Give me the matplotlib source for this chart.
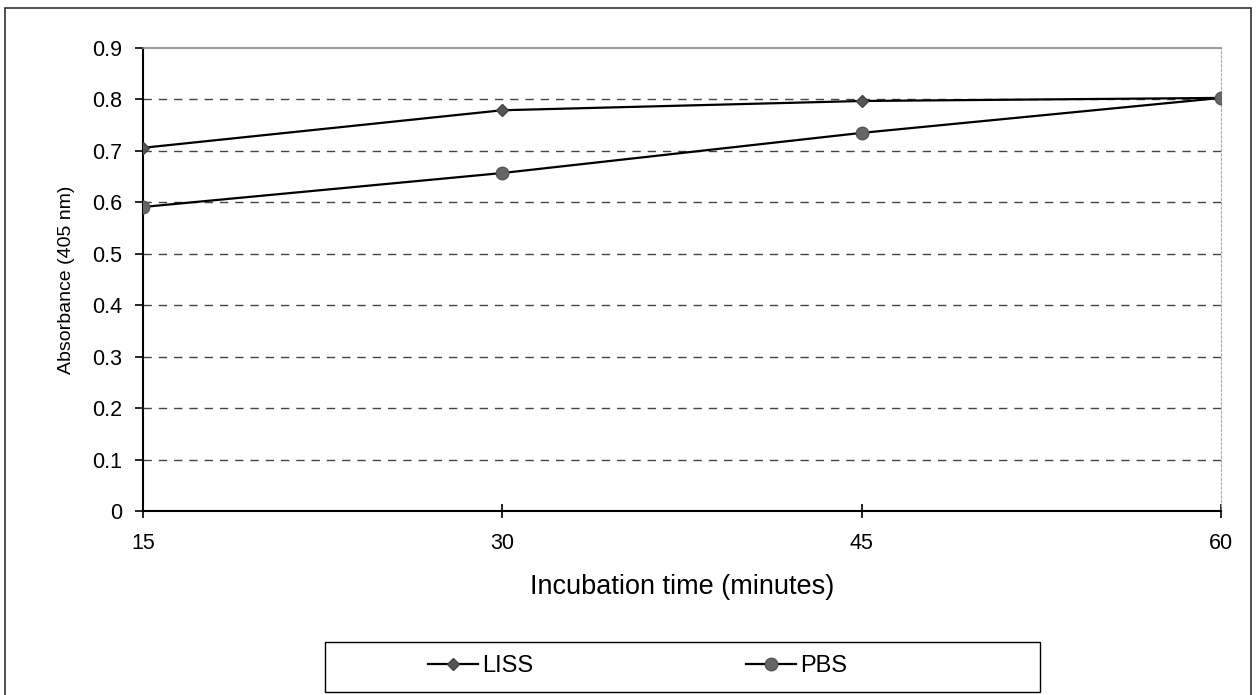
import numpy as np
import matplotlib.pyplot as plt
from matplotlib.patches import Rectangle

plt.rcParams['font.family'] = ['Liberation Sans', 'DejaVu Sans']

# data
times = [15, 30, 45, 60]
liss = [0.706, 0.779, 0.797, 0.803]
pbs = [0.591, 0.657, 0.735, 0.803]
yticks = [0, 0.1, 0.2, 0.3, 0.4, 0.5, 0.6, 0.7, 0.8, 0.9]

W, H = 1256, 695
fig = plt.figure(figsize=(W / 100, H / 100), dpi=100)
ax = fig.add_axes([143 / W, 1 - 511 / H, (1221 - 143) / W, (511 - 48) / H])

# outer chart frame
fig.patches.append(Rectangle((5 / W, -0.05), 1246 / W, 1 - 8 / H + 0.05,
                             transform=fig.transFigure, fill=False,
                             edgecolor='#333333', linewidth=1.2))

for y in yticks[1:-1]:
    ax.axhline(y, color='#444444', linewidth=1.0, linestyle=(0, (6, 5)), zorder=1)

ax.plot(times, liss, color='black', linewidth=1.6, marker='D', markersize=6,
        markerfacecolor='#555555', markeredgecolor='#444444', label='LISS', zorder=3)
ax.plot(times, pbs, color='black', linewidth=1.6, marker='o', markersize=9,
        markerfacecolor='#666666', markeredgecolor='#555555', label='PBS', zorder=3)

ax.set_xlim(15, 60)
ax.set_ylim(0, 0.9)
ax.set_xticks(times)
ax.set_yticks(yticks)
ax.set_yticklabels(['0' if v == 0 else f'{v:.1f}' for v in yticks])
ax.tick_params(axis='both', labelsize=15.5, length=6, width=1.2, direction='out')
ax.tick_params(axis='y', pad=9)
ax.tick_params(axis='x', pad=11, direction='inout', length=10)

ax.spines['left'].set_linewidth(1.5)
ax.spines['bottom'].set_linewidth(1.5)
ax.spines['top'].set_color('#888888')
ax.spines['top'].set_linewidth(1.2)
ax.spines['right'].set_color('#aaaaaa')
ax.spines['right'].set_linestyle((0, (2, 2)))
ax.spines['right'].set_linewidth(0.8)

ax.set_xlabel('Incubation time (minutes)', fontsize=19.5, labelpad=14)
ax.set_ylabel('Absorbance (405 nm)', fontsize=14, labelpad=12)

# legend box drawn separately, entries placed inside it
fig.patches.append(Rectangle((325 / W, 1 - 692 / H), (1040 - 325) / W, 50 / H,
                             transform=fig.transFigure, fill=False,
                             edgecolor='black', linewidth=1.0))
leg = fig.legend(loc='center left', bbox_to_anchor=(428 / W, 1 - 666 / H),
                 ncol=2, fontsize=17, frameon=False, borderpad=0,
                 borderaxespad=0, handlelength=2.1, handletextpad=0.2,
                 columnspacing=9.0)

fig.savefig('out.png', dpi=100)
